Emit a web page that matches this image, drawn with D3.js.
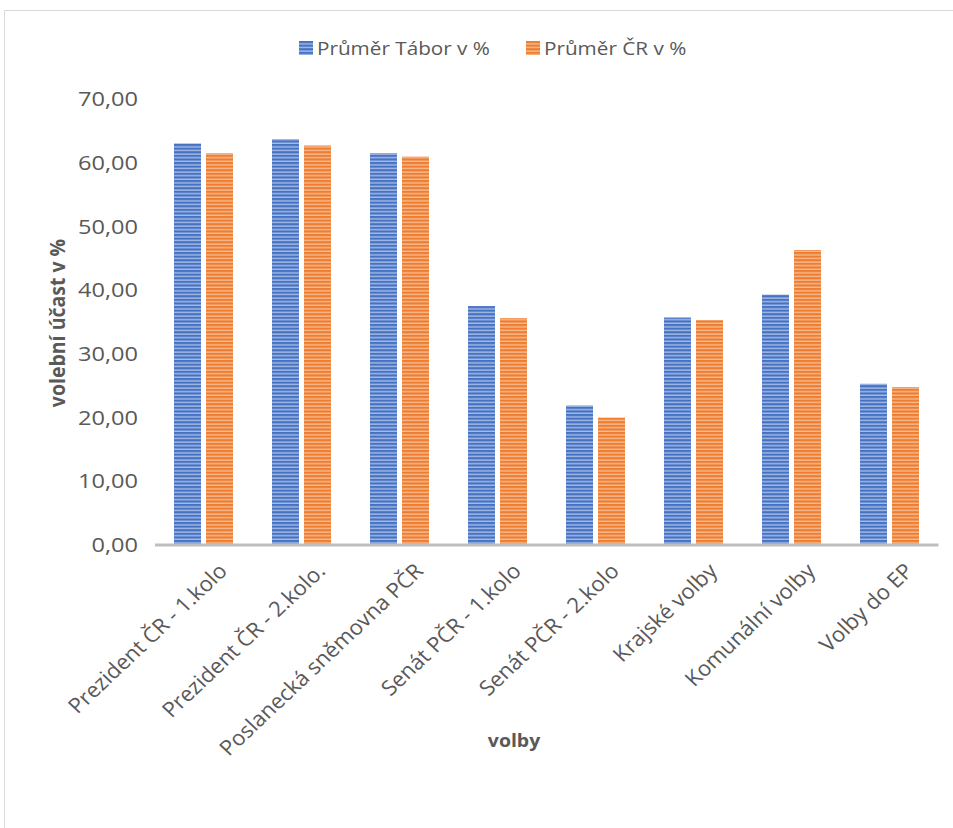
<!DOCTYPE html>
<html>
<head>
<meta charset="utf-8">
<script src="https://cdn.jsdelivr.net/npm/d3@7"></script>
<style>
  html, body { margin: 0; padding: 0; background: #fff; }
  svg { display: block; font-family: "Open Sans", sans-serif; }
</style>
</head>
<body>
<div id="chart"></div>
<script>
// Election types (x categories)
const categories = [
  "Prezident ČR - 1.kolo",
  "Prezident ČR - 2.kolo.",
  "Poslanecká sněmovna PČR",
  "Senát PČR - 1.kolo",
  "Senát PČR - 2.kolo",
  "Krajské volby",
  "Komunální volby",
  "Volby do EP"
];
// Series names
const seriesNames = ["Průměr Tábor v %", "Průměr ČR v %"];
// Turnout values (%)
const taborValues = [63.05, 63.7, 61.5, 37.5, 21.9, 35.7, 39.3, 25.3];
const crValues    = [61.5, 62.7, 60.95, 35.6, 20.0, 35.3, 46.3, 24.8];
// Y axis ticks
const yTicks = [0, 10, 20, 30, 40, 50, 60, 70];

const W = 953, H = 828;
const grey = "#595959";

const svg = d3.select("#chart").append("svg")
  .attr("width", W).attr("height", H);

// Striped fills for the two series
const defs = svg.append("defs");
function stripes(id, dark, light) {
  const p = defs.append("pattern")
    .attr("id", id).attr("patternUnits", "userSpaceOnUse")
    .attr("width", 8).attr("height", 3.6);
  p.append("rect").attr("width", 8).attr("height", 3.6).attr("fill", light);
  p.append("rect").attr("width", 8).attr("height", 2.2).attr("fill", dark);
}
stripes("stripeBlue", "#4672c4", "#a6bce4");
stripes("stripeOrange", "#ee7d30", "#f6bb92");
const fills = ["url(#stripeBlue)", "url(#stripeOrange)"];

// Outer frame (top and left edges visible)
svg.append("path")
  .attr("d", `M4.5,${H} L4.5,10.5 L${W},10.5`)
  .attr("fill", "none").attr("stroke", "#d9d9d9").attr("stroke-width", 1);

// Scales
const x0 = d3.scaleBand().domain(categories).range([154.5, 938.5]);
const x1 = d3.scaleBand().domain(seriesNames).range([19.5, 78.5]).paddingInner(5 / 32);
const y = d3.scaleLinear().domain([0, 70]).range([545, 99]);

const fmt = v => d3.format(".2f")(v).replace(".", ",");

// Y tick labels
const yAxis = svg.append("g");
yAxis.selectAll("text").data(yTicks).join("text")
  .attr("transform", d => `translate(138,${y(d)}) scale(1.18,1)`)
  .attr("text-anchor", "end").attr("dy", "0.36em")
  .attr("font-size", 20).attr("fill", grey)
  .text(fmt);

// Bars
const data = categories.map((c, i) => ({ cat: c, vals: [taborValues[i], crValues[i]] }));
const groups = svg.append("g").selectAll("g").data(data).join("g")
  .attr("transform", d => `translate(${x0(d.cat)},0)`);
groups.selectAll("rect").data(d => d.vals.map((v, k) => ({ v, k })))
  .join("rect")
  .attr("x", d => x1(seriesNames[d.k]))
  .attr("width", x1.bandwidth())
  .attr("y", d => y(d.v))
  .attr("height", d => y(0) - y(d.v))
  .attr("fill", d => fills[d.k]);

// Baseline
svg.append("line")
  .attr("x1", 155).attr("x2", 938.5)
  .attr("y1", y(0)).attr("y2", y(0))
  .attr("stroke", "#bfbfbf").attr("stroke-width", 3);

// Category labels, rotated
svg.append("g").selectAll("text").data(categories).join("text")
  .attr("transform", d => `translate(${x0(d) + x0.bandwidth() / 2 + 14},562) scale(1.06,1) rotate(-45)`)
  .attr("text-anchor", "end").attr("dy", "0.7em")
  .attr("font-size", 21).attr("fill", grey)
  .text(d => d);

// Axis titles
svg.append("text")
  .attr("transform", `translate(57,323) scale(1.1,1) rotate(-90)`)
  .attr("text-anchor", "middle").attr("dy", "0.35em")
  .attr("font-size", 19.5).attr("font-weight", "bold").attr("fill", grey)
  .text("volební účast v %");

svg.append("text")
  .attr("transform", `translate(514,741) scale(1.08,1)`)
  .attr("text-anchor", "middle").attr("dy", "0.35em")
  .attr("font-size", 18).attr("font-weight", "bold").attr("fill", grey)
  .text("volby");

// Legend
const legendX = [299, 526];
const legend = svg.append("g").selectAll("g").data(seriesNames).join("g")
  .attr("transform", (d, i) => `translate(${legendX[i]},41)`);
legend.append("rect")
  .attr("width", 14).attr("height", 14)
  .attr("fill", (d, i) => fills[i]);
legend.append("text")
  .attr("transform", `translate(18,7) scale(1.12,1)`)
  .attr("dy", "0.36em")
  .attr("font-size", 18.5).attr("fill", grey)
  .text(d => d);
</script>
</body>
</html>
